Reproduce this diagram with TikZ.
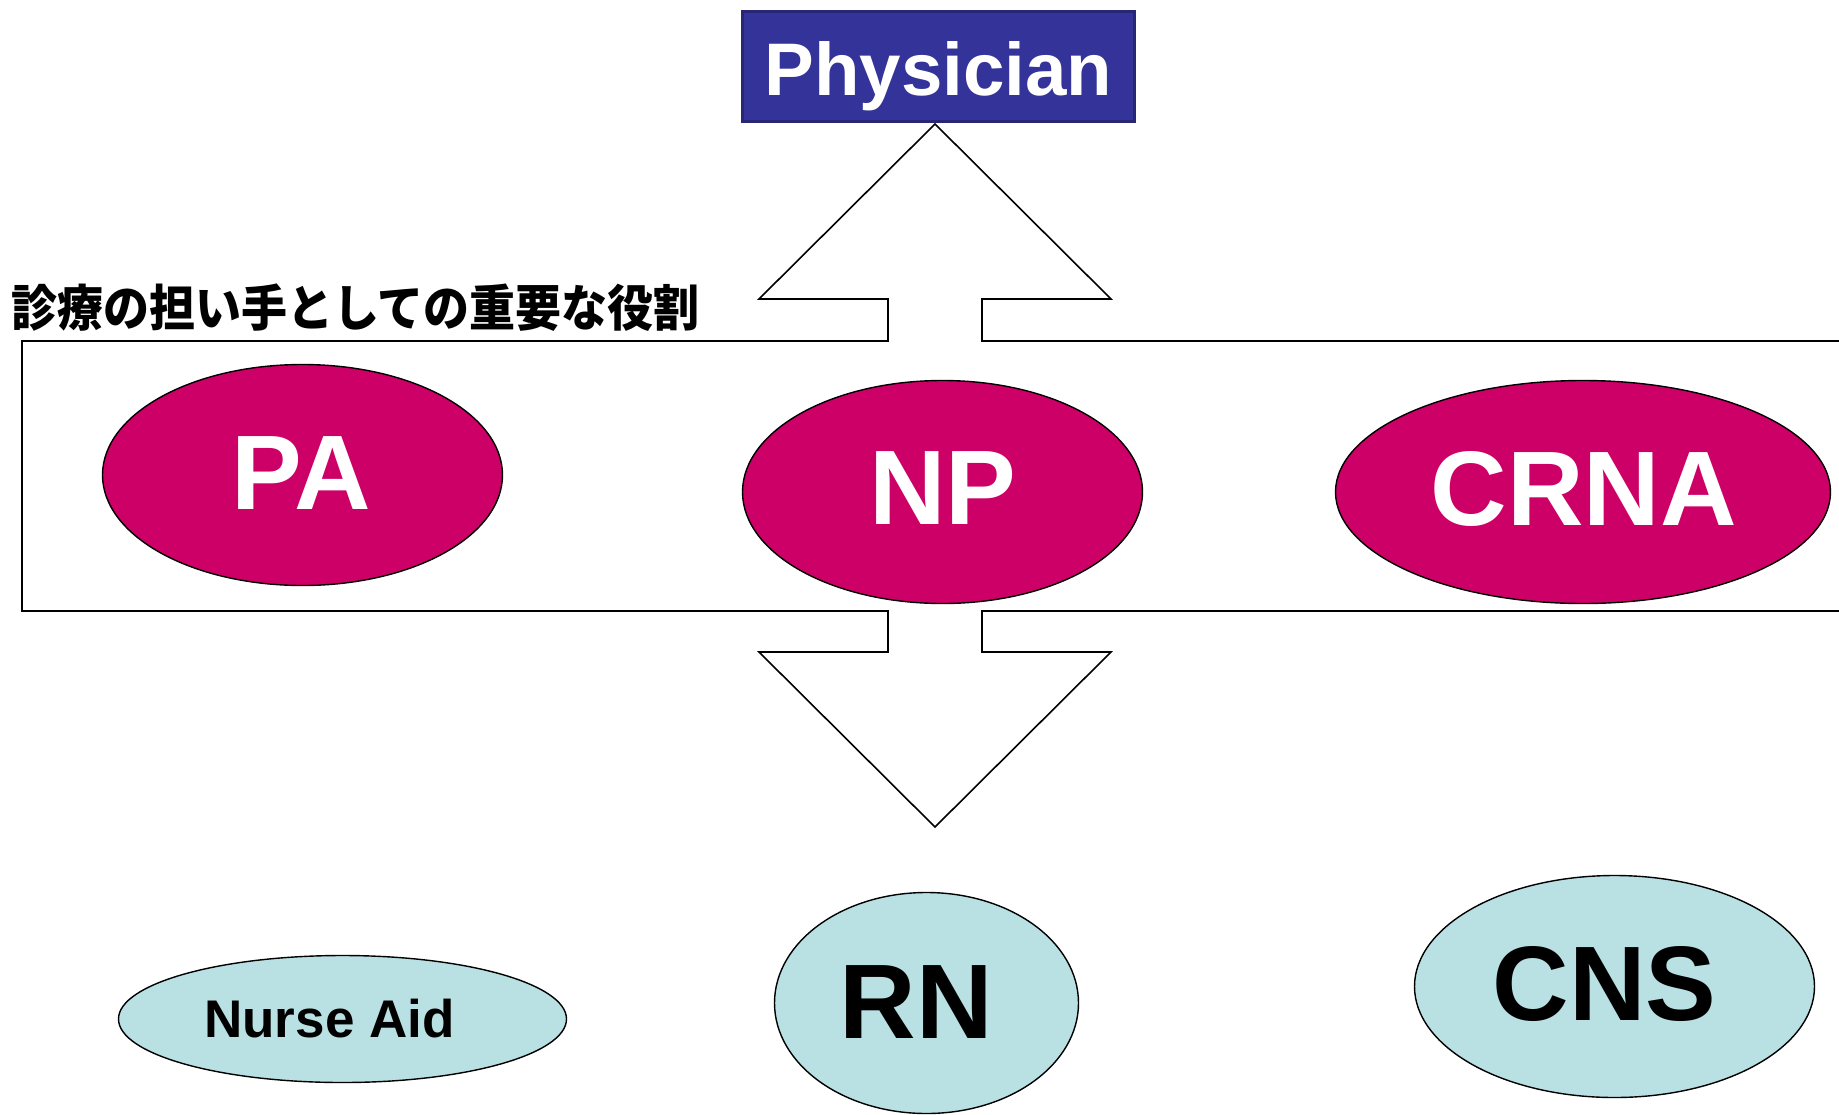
\documentclass[tikz,border=0pt]{standalone}
\usepackage{fontspec}
\usepackage{graphicx}
\setmainfont{Liberation Sans}
\newfontfamily\jpfont{Noto Sans CJK JP}
\usetikzlibrary{shapes.geometric}
\definecolor{pinkfill}{HTML}{CC0066}
\definecolor{bluefill}{HTML}{B9E0E3}
\definecolor{navyfill}{HTML}{333399}
\definecolor{navyline}{HTML}{272775}
\begin{document}
\begin{tikzpicture}[x=1pt,y=-1pt,
  outline/.style={draw=black, line width=1.6pt, fill=white, line join=miter},
  pinkell/.style={ellipse, draw=black, line width=1.4pt, fill=pinkfill, inner sep=0pt},
  blueell/.style={ellipse, draw=black, line width=1.4pt, fill=bluefill, inner sep=0pt},
  bigwhite/.style={anchor=base, inner sep=0pt, text=white, font=\fontsize{106}{106}\selectfont\bfseries},
  bigblack/.style={anchor=base, inner sep=0pt, text=black, font=\fontsize{106}{106}\selectfont\bfseries},
  smallblack/.style={anchor=base, inner sep=0pt, text=black, font=\fontsize{53}{53}\selectfont\bfseries},
  headbox/.style={draw=navyline, line width=3pt, fill=navyfill, inner sep=0pt, text=white,
    text height=57pt, text depth=0pt, font=\fontsize{74.5}{74.5}\selectfont\bfseries},
  jptext/.style={anchor=base west, inner sep=0pt, text=black, font=\jpfont\bfseries\fontsize{46}{46}\selectfont}
]
\useasboundingbox (0,0) rectangle (1839,1114);
\clip (0,0) rectangle (1839,1114);
\fill[white] (0,0) rectangle (1839,1114);

% double arrow with band
\draw[outline] (22,341) -- (888,341) -- (888,299) -- (759,299) -- (935,124) -- (1111,299)
  -- (982,299) -- (982,341) -- (1870,341) -- (1870,611) -- (982,611) -- (982,652)
  -- (1111,652) -- (935,827) -- (759,652) -- (888,652) -- (888,611) -- (22,611) -- cycle;

\node[headbox, minimum width=392pt, minimum height=110pt] (physician) at (938.5,66.5) {Physician};

\node[jptext] (role) at (11,326) {\scalebox{1}[1.08]{診療の担い手としての重要な役割}};

\node[pinkell, minimum width=400pt, minimum height=221pt] (pa) at (302.5,475) {};
\node[pinkell, minimum width=400pt, minimum height=223pt] (np) at (942.5,492) {};
\node[pinkell, minimum width=495pt, minimum height=223pt] (crna) at (1583,492) {};
\node[blueell, minimum width=448pt, minimum height=127pt] (aid) at (342.5,1019) {};
\node[blueell, minimum width=304pt, minimum height=221pt] (rn) at (926.5,1003) {};
\node[blueell, minimum width=400pt, minimum height=222pt] (cns) at (1614.5,986.5) {};

\node[bigwhite] (patext) at (301,509) {PA};
\node[bigwhite] (nptext) at (943,524) {NP};
\node[bigwhite] (crnatext) at (1584,525) {CRNA};
\node[smallblack] (aidtext) at (329.5,1037) {Nurse Aid};
\node[bigblack] (rntext) at (916.5,1038) {RN};
\node[bigblack] (cnstext) at (1604.5,1020) {CNS};
\end{tikzpicture}
\end{document}
